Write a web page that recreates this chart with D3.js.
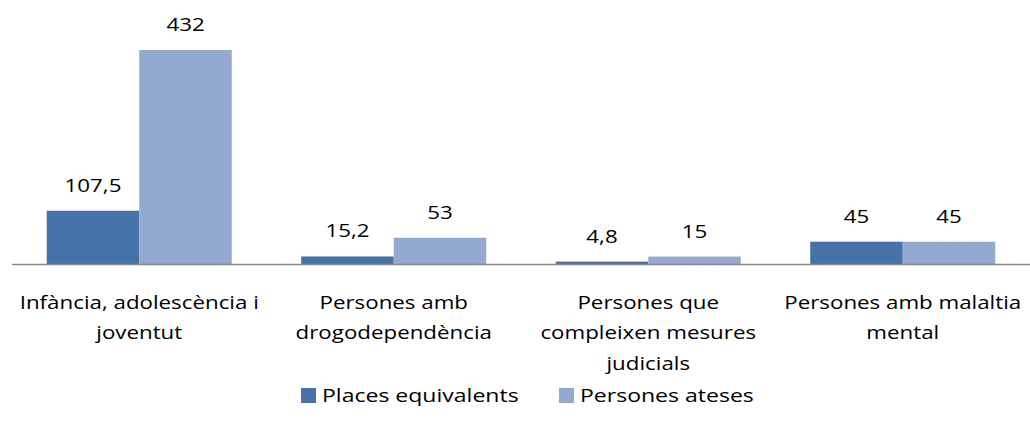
<!DOCTYPE html>
<html>
<head>
<meta charset="utf-8">
<script src="https://cdn.jsdelivr.net/npm/d3@7"></script>
<style>
  body { margin: 0; background: #fff; }
  text { font-family: "Open Sans", "Noto Sans", sans-serif; fill: #000; font-size: 18px; }
</style>
</head>
<body>
<div id="chart"></div>
<script>
var categories = [
  ["Infància, adolescència i", "joventut"],
  ["Persones amb", "drogodependència"],
  ["Persones que", "compleixen mesures", "judicials"],
  ["Persones amb malaltia", "mental"]
];
var seriesNames = ["Places equivalents", "Persones ateses"];
var places = [107.5, 15.2, 4.8, 45];
var ateses = [432, 53, 15, 45];
var colors = ["#4572A7", "#93A9CF"];

var width = 1030, height = 433;
var baseY = 264;
var sx = 1.24; // the original text looks stretched wide

var svg = d3.select("#chart").append("svg")
  .attr("width", width)
  .attr("height", height);

var x = d3.scaleBand()
  .domain(d3.range(categories.length))
  .range([12, 1030])
  .paddingInner(0.273)
  .paddingOuter(0.1365);

var x1 = d3.scaleBand()
  .domain([0, 1])
  .range([0, x.bandwidth()]);

var y = d3.scaleLinear().domain([0, 432]).range([baseY, 50]);

var fmt = function(v) { return String(v).replace(".", ","); };

function place(px, py) {
  return "translate(" + px + "," + py + ") scale(" + sx + ",1)";
}

var rows = categories.map(function(c, i) {
  return { i: i, values: [places[i], ateses[i]] };
});

var groups = svg.selectAll("g.grp")
  .data(rows)
  .enter().append("g")
  .attr("class", "grp")
  .attr("transform", function(d) { return "translate(" + x(d.i) + ",0)"; });

groups.selectAll("rect")
  .data(function(d) { return d.values; })
  .enter().append("rect")
  .attr("x", function(d, j) { return x1(j); })
  .attr("y", function(d) { return y(d); })
  .attr("width", x1.bandwidth())
  .attr("height", function(d) { return baseY - y(d); })
  .attr("fill", function(d, j) { return colors[j]; });

groups.selectAll("text.val")
  .data(function(d) { return d.values; })
  .enter().append("text")
  .attr("class", "val")
  .attr("transform", function(d, j) { return place(x1(j) + x1.bandwidth() / 2, y(d) - 19); })
  .attr("text-anchor", "middle")
  .text(fmt);

// axis line
svg.append("line")
  .attr("x1", 12).attr("x2", 1030)
  .attr("y1", baseY + 0.5).attr("y2", baseY + 0.5)
  .attr("stroke", "#868686")
  .attr("stroke-width", 1.5);

// category labels
categories.forEach(function(lines, i) {
  var t = svg.append("text")
    .attr("transform", place(x(i) + x.bandwidth() / 2, 309))
    .attr("text-anchor", "middle");
  lines.forEach(function(l, k) {
    t.append("tspan")
      .attr("x", 0)
      .attr("dy", k === 0 ? 0 : 30.5)
      .text(l);
  });
});

// legend
var legX = [301, 559];
seriesNames.forEach(function(name, j) {
  svg.append("rect")
    .attr("x", legX[j]).attr("y", 388)
    .attr("width", 15).attr("height", 15)
    .attr("fill", colors[j]);
  svg.append("text")
    .attr("transform", "translate(" + (legX[j] + 21) + ",402) scale(1.28,1)")
    .text(name);
});
</script>
</body>
</html>
